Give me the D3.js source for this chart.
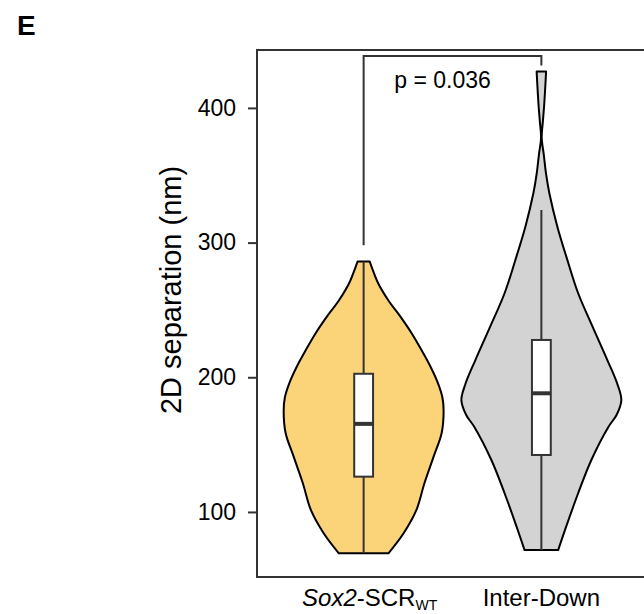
<!DOCTYPE html>
<html>
<head>
<meta charset="utf-8">
<script src="https://cdn.jsdelivr.net/npm/d3@7"></script>
<style>
  html, body { margin: 0; padding: 0; background: #fff; }
  svg { display: block; }
  text { font-family: "Liberation Sans", Arial, Helvetica, sans-serif; }
</style>
</head>
<body>
<div id="chart"></div>
<script>
// ---------------- data ----------------
const categories = ["Sox2-SCR", "Inter-Down"];
const fillColors = ["#FBD47A", "#D3D3D3"];
const yTicks = [100, 200, 300, 400];

// violin density profiles (value, relative density)
const violin1Values  = [286, 282, 270, 257, 245, 232.7, 220, 208, 195.5, 185, 175, 158.4, 141.1, 121.3, 101.5, 84.2, 69.3];
const violin1Density = [0.075, 0.1, 0.18, 0.31, 0.46, 0.6, 0.725, 0.835, 0.93, 0.985, 1.0, 0.975, 0.875, 0.76, 0.66, 0.5, 0.31];

const violin2Values  = [427, 420, 402, 390, 378, 365, 351, 336.6, 311.8, 287.1, 262.4, 237.6, 212.8, 195, 183, 172, 163.3, 138.6, 113.9, 89.1, 71.7];
const violin2Density = [0.059, 0.053, 0.035, 0.019, 0.004, 0.031, 0.059, 0.1, 0.2, 0.325, 0.46, 0.64, 0.825, 0.95, 1.0, 0.94, 0.84, 0.625, 0.46, 0.31, 0.21];

// box statistics
const whiskerLow  = [69.3, 71.7];
const q1          = [126.2, 142.3];
const medians     = [165.4, 188.1];
const q3          = [202.6, 227.7];
const whiskerHigh = [286, 324.2];

// significance bracket
const bracketLevel = 438.5;
const bracketEnds  = [298, 431.5];
const pLabel = "p = 0.036";

// ---------------- layout ----------------
const W = 644, H = 614;
const plot = { left: 257, top: 50, bottom: 577, right: 648 };

const svg = d3.select("#chart").append("svg")
  .attr("width", W).attr("height", H);

const y = d3.scaleLinear().domain([51.7, 443]).range([plot.bottom, plot.top]);
const x = d3.scalePoint().domain(categories).range([plot.left, plot.right]).padding(0.6);
const halfW = d3.scaleLinear().domain([0, 1]).range([0, x.step() * 0.45]);
const boxHalf = x.step() * 0.053;

// panel letter
svg.append("text").attr("x", 17).attr("y", 35)
  .attr("font-size", 28).attr("font-weight", "bold").attr("fill", "#000")
  .text("E");

// violins
const violins = [
  violin1Values.map((v, i) => ({ v, d: violin1Density[i] })),
  violin2Values.map((v, i) => ({ v, d: violin2Density[i] }))
];

violins.forEach((prof, i) => {
  const cx = x(categories[i]);
  const area = d3.area()
    .y(d => y(d.v))
    .x0(d => cx - halfW(d.d))
    .x1(d => cx + halfW(d.d))
    .curve(d3.curveCatmullRom.alpha(0.5));
  svg.append("path")
    .attr("d", area(prof) + "Z")
    .attr("fill", fillColors[i])
    .attr("stroke", "#000")
    .attr("stroke-width", 2)
    .attr("stroke-linejoin", "round");
});

// boxplots
categories.forEach((c, i) => {
  const cx = x(c);
  const g = svg.append("g");
  g.append("line")
    .attr("x1", cx).attr("x2", cx)
    .attr("y1", y(whiskerLow[i])).attr("y2", y(whiskerHigh[i]))
    .attr("stroke", "#333").attr("stroke-width", 2);
  g.append("rect")
    .attr("x", cx - boxHalf).attr("width", boxHalf * 2)
    .attr("y", y(q3[i])).attr("height", y(q1[i]) - y(q3[i]))
    .attr("fill", "#fff").attr("stroke", "#333").attr("stroke-width", 2);
  g.append("line")
    .attr("x1", cx - boxHalf).attr("x2", cx + boxHalf)
    .attr("y1", y(medians[i])).attr("y2", y(medians[i]))
    .attr("stroke", "#333").attr("stroke-width", 4);
});

// frame
svg.append("rect")
  .attr("x", plot.left).attr("y", plot.top)
  .attr("width", plot.right - plot.left).attr("height", plot.bottom - plot.top)
  .attr("fill", "none").attr("stroke", "#333").attr("stroke-width", 2);

// y axis
const yAxis = d3.axisLeft(y).tickValues(yTicks).tickSize(9).tickPadding(12);
const ag = svg.append("g").attr("transform", `translate(${plot.left},0)`).call(yAxis);
ag.select(".domain").remove();
ag.selectAll(".tick line").attr("stroke", "#333").attr("stroke-width", 2);
ag.selectAll(".tick text")
  .attr("font-size", 23).attr("fill", "#000")
  .attr("font-family", "'Liberation Sans', Arial, sans-serif");

// y axis title
svg.append("text")
  .attr("transform", `translate(181,290) rotate(-90)`)
  .attr("text-anchor", "middle")
  .attr("font-size", 29).attr("fill", "#000")
  .text("2D separation (nm)");

// x labels
const xl1 = svg.append("text")
  .attr("x", x(categories[0]) + 6).attr("y", 606)
  .attr("text-anchor", "middle").attr("font-size", 24).attr("fill", "#000");
xl1.append("tspan").attr("font-style", "italic").text("Sox2");
xl1.append("tspan").text("-SCR");
xl1.append("tspan").attr("font-size", 14).attr("dy", 4).text("WT");

svg.append("text")
  .attr("x", x(categories[1])).attr("y", 606)
  .attr("text-anchor", "middle").attr("font-size", 24).attr("fill", "#000")
  .text(categories[1]);

// significance bracket
const bx1 = x(categories[0]), bx2 = x(categories[1]);
svg.append("path")
  .attr("d", d3.line()([[bx1, y(bracketEnds[0])], [bx1, y(bracketLevel)], [bx2, y(bracketLevel)], [bx2, y(bracketEnds[1])]]))
  .attr("fill", "none").attr("stroke", "#333").attr("stroke-width", 2);

svg.append("text")
  .attr("x", (bx1 + bx2) / 2 - 10).attr("y", 88)
  .attr("text-anchor", "middle").attr("font-size", 23).attr("fill", "#000")
  .text(pLabel);
</script>
</body>
</html>
